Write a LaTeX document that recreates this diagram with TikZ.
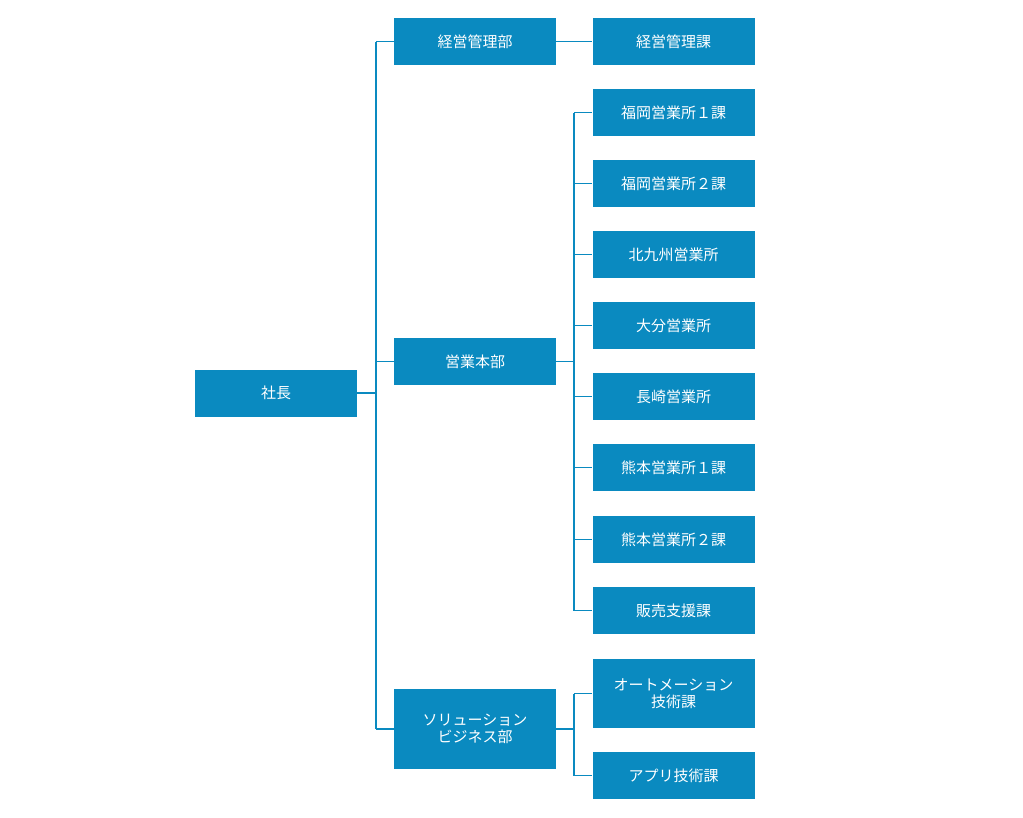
\documentclass[tikz,border=0pt]{standalone}
\usepackage{fontspec}
\setmainfont{Noto Sans CJK JP}
\begin{document}
\begin{tikzpicture}[x=1pt,y=-1pt,
 box/.style={fill=boxc,text=white,minimum width=162pt,minimum height=47pt,inner sep=0pt,align=center,font=\fontsize{15}{17}\selectfont},
 ln/.style={draw=boxc,line width=1.6pt}]
\definecolor{boxc}{HTML}{0A8AC0}
\useasboundingbox (0,0) rectangle (1023,817);
\node[box] (ceo) at (276,393) {社長};
\node[box] (d1) at (475,41.5) {経営管理部};
\node[box] (d2) at (475,361.5) {営業本部};
\node[box,minimum height=80pt] (d3) at (475,729) {ソリューション\\ビジネス部};
\node[box] (k0) at (673.5,41.5) {経営管理課};
\node[box] (k1) at (673.5,112.5) {福岡営業所１課};
\node[box] (k2) at (673.5,183.5) {福岡営業所２課};
\node[box] (k3) at (673.5,254.5) {北九州営業所};
\node[box] (k4) at (673.5,325.5) {大分営業所};
\node[box] (k5) at (673.5,396.5) {長崎営業所};
\node[box] (k6) at (673.5,467.5) {熊本営業所１課};
\node[box] (k7) at (673.5,539.5) {熊本営業所２課};
\node[box] (k8) at (673.5,610.5) {販売支援課};
\node[box,minimum height=69pt] (k9) at (673.5,693.5) {オートメーション\\技術課};
\node[box] (k10) at (673.5,775.5) {アプリ技術課};
\coordinate (b0) at (376,0);
\coordinate (b1) at (574,0);
\draw[ln] (ceo.east) -- (ceo.east -| b0);
\draw[ln] (d1.west -| b0) -- (d3.west -| b0);
\foreach \d in {d1,d2,d3} \draw[ln] (\d.west -| b0) -- (\d.west);
\draw[ln] (d1.east) -- (k0.west);
\draw[ln] (d2.east) -- (d2.east -| b1);
\draw[ln] (k1.west -| b1) -- (k8.west -| b1);
\foreach \k in {k1,k2,k3,k4,k5,k6,k7,k8} \draw[ln] (\k.west -| b1) -- (\k.west);
\draw[ln] (d3.east) -- (d3.east -| b1);
\draw[ln] (k9.west -| b1) -- (k10.west -| b1);
\foreach \k in {k9,k10} \draw[ln] (\k.west -| b1) -- (\k.west);
\end{tikzpicture}
\end{document}
